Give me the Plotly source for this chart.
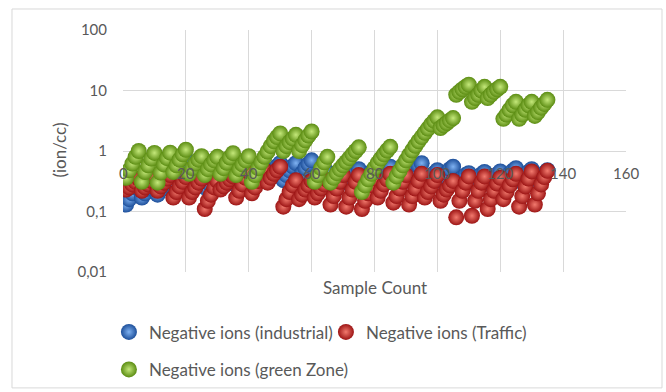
import plotly.graph_objects as go

# ---- data ----
industrial = [
    0.13, 0.16, 0.20, 0.25, 0.30,
    0.17, 0.20, 0.24, 0.28, 0.33,
    0.19, 0.23, 0.27, 0.32, 0.38,
    0.30, 0.38, 0.48, 0.60, 0.75,
    0.25, 0.30, 0.35, 0.40, 0.45,
    0.25, 0.30, 0.35, 0.40, 0.45,
    0.26, 0.30, 0.35, 0.40, 0.46,
    0.27, 0.31, 0.36, 0.41, 0.46,
    0.28, 0.33, 0.38, 0.44, 0.50,
    0.33, 0.40, 0.48, 0.56, 0.63,
    0.33, 0.40, 0.48, 0.56, 0.63,
    0.35, 0.43, 0.52, 0.61, 0.70,
    0.25, 0.30, 0.35, 0.40, 0.45,
    0.28, 0.32, 0.36, 0.40, 0.45,
    0.30, 0.35, 0.40, 0.45, 0.50,
    0.30, 0.35, 0.40, 0.45, 0.50,
    0.32, 0.37, 0.43, 0.49, 0.55,
    0.30, 0.35, 0.40, 0.45, 0.50,
    0.35, 0.42, 0.50, 0.57, 0.63,
    0.30, 0.34, 0.38, 0.43, 0.48,
    0.32, 0.38, 0.44, 0.50, 0.55,
    0.30, 0.33, 0.36, 0.40, 0.43,
    0.30, 0.33, 0.37, 0.41, 0.45,
    0.30, 0.33, 0.37, 0.41, 0.46,
    0.33, 0.37, 0.42, 0.47, 0.52,
    0.32, 0.36, 0.41, 0.45, 0.50,
    0.30, 0.34, 0.39, 0.43, 0.48,
]
traffic = [
    0.23, 0.25, 0.28, 0.31, 0.35,
    0.22, 0.25, 0.28, 0.32, 0.36,
    0.22, 0.26, 0.30, 0.35, 0.40,
    0.17, 0.21, 0.26, 0.31, 0.37,
    0.17, 0.21, 0.25, 0.30, 0.35,
    0.11, 0.15, 0.19, 0.25, 0.32,
    0.23, 0.26, 0.30, 0.34, 0.38,
    0.17, 0.22, 0.28, 0.36, 0.45,
    0.20, 0.25, 0.32, 0.40, 0.48,
    0.30, 0.36, 0.42, 0.48, 0.55,
    0.12, 0.16, 0.21, 0.27, 0.33,
    0.16, 0.19, 0.23, 0.27, 0.32,
    0.17, 0.20, 0.24, 0.28, 0.33,
    0.13, 0.18, 0.24, 0.31, 0.40,
    0.12, 0.17, 0.23, 0.31, 0.40,
    0.11, 0.15, 0.20, 0.27, 0.35,
    0.17, 0.22, 0.28, 0.34, 0.42,
    0.14, 0.18, 0.24, 0.31, 0.40,
    0.13, 0.18, 0.24, 0.32, 0.42,
    0.17, 0.21, 0.26, 0.32, 0.40,
    0.15, 0.19, 0.23, 0.27, 0.32,
    0.08, 0.15, 0.22, 0.30, 0.38,
    0.085, 0.15, 0.22, 0.30, 0.38,
    0.11, 0.16, 0.22, 0.29, 0.36,
    0.16, 0.21, 0.27, 0.34, 0.42,
    0.12, 0.18, 0.26, 0.35, 0.46,
    0.13, 0.20, 0.28, 0.37, 0.47,
]
green_zone = [
    0.36, 0.48, 0.62, 0.80, 1.00,
    0.31, 0.45, 0.58, 0.75, 0.93,
    0.30, 0.44, 0.60, 0.76, 0.94,
    0.45, 0.58, 0.72, 0.88, 1.05,
    0.42, 0.52, 0.62, 0.72, 0.82,
    0.40, 0.50, 0.60, 0.70, 0.80,
    0.42, 0.52, 0.64, 0.78, 0.92,
    0.40, 0.50, 0.60, 0.70, 0.82,
    0.31, 0.40, 0.52, 0.65, 0.80,
    0.98, 1.20, 1.45, 1.70, 1.95,
    1.00, 1.20, 1.40, 1.60, 1.85,
    1.00, 1.25, 1.50, 1.80, 2.10,
    0.31, 0.40, 0.52, 0.65, 0.80,
    0.30, 0.36, 0.43, 0.50, 0.58,
    0.66, 0.76, 0.88, 1.00, 1.15,
    0.21, 0.27, 0.34, 0.42, 0.52,
    0.63, 0.75, 0.88, 1.02, 1.17,
    0.30, 0.38, 0.47, 0.58, 0.70,
    0.85, 1.02, 1.22, 1.45, 1.70,
    2.00, 2.35, 2.75, 3.15, 3.60,
    2.40, 2.65, 2.90, 3.20, 3.50,
    8.5, 9.5, 10.5, 11.5, 12.5,
    6.5, 7.5, 8.5, 10.0, 11.5,
    7.5, 8.5, 9.5, 10.5, 11.5,
    3.4, 4.0, 4.8, 5.7, 6.5,
    3.4, 4.0, 4.8, 5.7, 6.5,
    3.8, 4.4, 5.2, 6.0, 7.0,
]
sample = list(range(1, len(green_zone) + 1))

x_ticks = [0, 20, 40, 60, 80, 100, 120, 140, 160]
y_ticks = [0.01, 0.1, 1, 10, 100]
y_tick_labels = ["0,01", "0,1", "1", "10", "100"]

names = ["Negative ions (industrial)", "Negative ions (Traffic)", "Negative ions (green Zone)"]

FONT = "Lato"
GRAY = "#595959"
TEXT = 17

fig = go.Figure()
styles = [
    ("#1d4f9a", "#7fb2f2", "legend"),
    ("#9c1414", "#f27a6e", "legend"),
    ("#5b8c12", "#c4e87a", "legend2"),
]
for vals, name, (edge, center, lg) in zip([industrial, traffic, green_zone], names, styles):
    fig.add_trace(go.Scatter(
        x=sample, y=vals, mode="markers", name=name, legend=lg,
        marker=dict(size=16, color=edge, line=dict(width=0),
                    gradient=dict(type="radial", color=center)),
    ))

# x tick labels sit inside the plot (Excel-style axis crossing)
for t in x_ticks:
    fig.add_annotation(x=t, y=-0.364, xref="x", yref="y", text=str(t),
                       showarrow=False, font=dict(family=FONT, size=15, color=GRAY))

fig.add_annotation(x=-0.153, y=0.504, xref="paper", yref="paper", text="(ion/cc)",
                   textangle=-90, showarrow=False, font=dict(family=FONT, size=TEXT, color=GRAY))
fig.add_annotation(x=0.5, y=-0.066, xref="paper", yref="paper", text="Sample Count",
                   showarrow=False, yanchor="middle", font=dict(family=FONT, size=TEXT, color=GRAY))

fig.add_shape(type="rect", xref="paper", yref="paper",
              x0=-0.2207, x1=1.0716, y0=-0.479, y1=1.0868,
              line=dict(color="#d9d9d9", width=1))

fig.update_layout(
    width=666, height=392,
    margin=dict(l=123, r=40, t=30, b=120, autoexpand=False),
    paper_bgcolor="white", plot_bgcolor="white",
    font=dict(family=FONT, size=TEXT, color=GRAY),
    xaxis=dict(range=[0, 160], tickvals=x_ticks, showticklabels=False,
               showgrid=True, gridcolor="#d9d9d9", gridwidth=1, zeroline=False,
               showline=False, mirror=False),
    yaxis=dict(type="log", range=[-2, 2], tickvals=y_ticks, ticktext=y_tick_labels,
               showgrid=True, gridcolor="#d9d9d9", gridwidth=1, zeroline=False,
               ticks="outside", ticklen=12, tickcolor="rgba(0,0,0,0)",
               tickfont=dict(family=FONT, size=15, color=GRAY)),
    legend=dict(orientation="h", x=-0.028, y=-0.175, xanchor="left", yanchor="top",
                entrywidth=172, entrywidthmode="pixels",
                font=dict(family=FONT, size=TEXT, color=GRAY), bgcolor="rgba(0,0,0,0)"),
    legend2=dict(orientation="h", x=-0.028, y=-0.33, xanchor="left", yanchor="top",
                 font=dict(family=FONT, size=TEXT, color=GRAY), bgcolor="rgba(0,0,0,0)"),
    showlegend=True,
)

fig.write_html("out.html")
